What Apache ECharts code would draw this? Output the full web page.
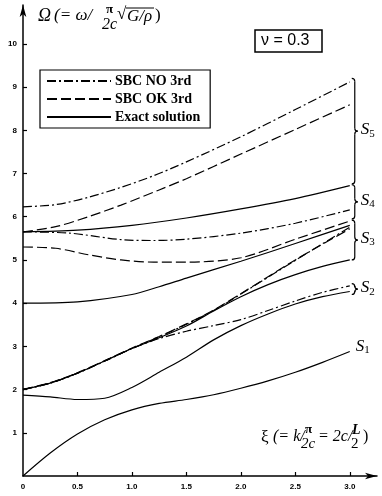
<!DOCTYPE html>
<html>
<head>
<meta charset="utf-8">
<script src="https://cdn.jsdelivr.net/npm/echarts@6/dist/echarts.min.js"></script>
<style>
html, body { margin: 0; padding: 0; background: #fff; }
#chart { width: 382px; height: 496px; }
</style>
</head>
<body>
<div id="chart"></div>
<script>
// 色散曲线 (v = 0.3)
var myChart = echarts.init(document.getElementById('chart'));

// 坐标轴刻度
var X_TICKS = [0, 0.5, 1.0, 1.5, 2.0, 2.5, 3.0];
var Y_TICKS = [1, 2, 3, 4, 5, 6, 7, 8, 9, 10];

// 精确解 Exact solution
var exactS1 = [[0, 0], [0.25, 0.53], [0.5, 0.97], [0.75, 1.3], [1.0, 1.53], [1.25, 1.68], [1.5, 1.77], [1.75, 1.88], [2.0, 2.03], [2.25, 2.2], [2.5, 2.4], [2.75, 2.63], [3.0, 2.88]];
var exactS2 = [[0, 1.87], [0.25, 1.83], [0.5, 1.77], [0.75, 1.8], [1.0, 2.05], [1.25, 2.4], [1.5, 2.75], [1.75, 3.15], [2.0, 3.48], [2.25, 3.75], [2.5, 3.98], [2.75, 4.15], [3.0, 4.27]];
var exactB2 = [[0, 2.0], [0.25, 2.15], [0.5, 2.38], [0.75, 2.66], [1.0, 2.95], [1.25, 3.2], [1.5, 3.47], [1.75, 3.82], [2.0, 4.15], [2.25, 4.43], [2.5, 4.66], [2.75, 4.85], [3.0, 5.0]];
var exactB4 = [[0, 4.0], [0.5, 4.03], [1.0, 4.2], [1.25, 4.38], [1.5, 4.58], [2.0, 4.97], [2.5, 5.38], [3.0, 5.8]];
var exactS4 = [[0, 5.65], [0.5, 5.69], [1.0, 5.8], [1.5, 5.97], [2.0, 6.18], [2.5, 6.42], [3.0, 6.72]];

// SBC NO 3rd
var noB2 = [[0, 2.0], [0.25, 2.15], [0.5, 2.38], [0.75, 2.66], [1.0, 2.95], [1.25, 3.22], [1.5, 3.51], [1.75, 3.83], [2.0, 4.21], [2.5, 4.99], [3.0, 5.76]];
var noS2 = [[0, 2.0], [0.25, 2.15], [0.5, 2.38], [0.75, 2.66], [1.0, 2.95], [1.25, 3.18], [1.5, 3.35], [1.75, 3.48], [2.0, 3.62], [2.25, 3.83], [2.5, 4.05], [2.75, 4.25], [3.0, 4.4]];
var noS4 = [[0, 5.65], [0.43, 5.62], [0.9, 5.47], [1.2, 5.45], [1.5, 5.48], [2.0, 5.62], [2.5, 5.85], [3.0, 6.16]];
var noS5 = [[0, 6.23], [0.3, 6.28], [0.6, 6.45], [0.9, 6.68], [1.2, 6.95], [1.5, 7.27], [2.0, 7.85], [2.5, 8.48], [3.0, 9.12]];

// SBC OK 3rd
var okB2 = [[0, 2.01], [0.25, 2.16], [0.5, 2.39], [0.75, 2.67], [1.0, 2.96], [1.25, 3.23], [1.5, 3.52], [1.75, 3.84], [2.0, 4.22], [2.5, 5.0], [3.0, 5.72]];
var okS3 = [[0, 5.3], [0.3, 5.27], [0.6, 5.12], [0.9, 5.0], [1.2, 4.95], [1.5, 4.95], [2.0, 5.05], [2.5, 5.48], [3.0, 5.9]];
var okS5 = [[0, 5.65], [0.3, 5.77], [0.6, 6.0], [0.9, 6.27], [1.25, 6.62], [1.5, 6.88], [2.0, 7.45], [2.5, 8.02], [3.0, 8.59]];

var NAME_NO = 'SBC NO 3rd';
var NAME_OK = 'SBC OK 3rd';
var NAME_EX = 'Exact solution';

var SERIF = 'Liberation Serif';
var SANS = 'Liberation Sans';
var DASH_NO = [9, 3, 2, 3];
var DASH_OK = [10, 4];

function makeLine(name, data, dash) {
    return {
        name: name,
        type: 'line',
        data: data,
        smooth: 0.3,
        symbol: 'none',
        silent: true,
        itemStyle: { color: '#000' },
        lineStyle: { color: '#000', width: 1.2, type: dash }
    };
}

var series = [
    makeLine(NAME_NO, noS5, DASH_NO),
    makeLine(NAME_NO, noS4, DASH_NO),
    makeLine(NAME_NO, noB2, DASH_NO),
    makeLine(NAME_NO, noS2, DASH_NO),
    makeLine(NAME_OK, okS5, DASH_OK),
    makeLine(NAME_OK, okS3, DASH_OK),
    makeLine(NAME_OK, okB2, DASH_OK),
    makeLine(NAME_EX, exactS1, 'solid'),
    makeLine(NAME_EX, exactS2, 'solid'),
    makeLine(NAME_EX, exactB2, 'solid'),
    makeLine(NAME_EX, exactB4, 'solid'),
    makeLine(NAME_EX, exactS4, 'solid')
];

var option = {
    animation: false,
    backgroundColor: '#fff',
    grid: { left: 23, right: 5, top: 5, bottom: 20 },
    xAxis: {
        type: 'value',
        min: 0,
        max: 3.25,
        axisLine: { lineStyle: { color: '#000', width: 1.5 }, symbol: ['none', 'arrow'], symbolSize: [5, 12] },
        axisTick: { inside: true, length: 4, customValues: X_TICKS.slice(1), lineStyle: { color: '#000', width: 1.2 } },
        axisLabel: {
            customValues: X_TICKS,
            margin: 7,
            color: '#000',
            fontFamily: SANS,
            fontWeight: 'bold',
            fontSize: 8,
            formatter: function (v) { return v === 0 ? '0' : v.toFixed(1); }
        },
        splitLine: { show: false }
    },
    yAxis: {
        type: 'value',
        min: 0,
        max: 10.9,
        axisLine: { lineStyle: { color: '#000', width: 1.5 }, symbol: ['none', 'arrow'], symbolSize: [5, 12] },
        axisTick: { inside: true, length: 4, customValues: Y_TICKS, lineStyle: { color: '#000', width: 1.2 } },
        axisLabel: {
            customValues: Y_TICKS,
            margin: 6,
            color: '#000',
            fontFamily: SANS,
            fontWeight: 'bold',
            fontSize: 8
        },
        splitLine: { show: false }
    },
    legend: {
        left: 40,
        top: 70,
        orient: 'vertical',
        data: [NAME_NO, NAME_OK, NAME_EX],
        itemWidth: 64,
        itemHeight: 12,
        itemGap: 4,
        padding: [4, 10, 4, 6],
        borderColor: '#000',
        borderWidth: 1.2,
        selectedMode: false,
        itemStyle: { opacity: 0 },
        textStyle: { fontFamily: SERIF, fontSize: 14, fontWeight: 'bold', color: '#000', padding: [0, 0, 0, -1] }
    },
    series: series
};

myChart.setOption(option);

// 标注：大括号和模态标签
function px(x, y) { return myChart.convertToPixel({ gridIndex: 0 }, [x, y]); }

function brace(x, y1, y2) {
    var m = (y1 + y2) / 2;
    var st = { fill: null, stroke: '#000', lineWidth: 1.2 };
    return [
        { type: 'bezierCurve', silent: true, style: st, shape: { x1: x, y1: y1, cpx1: x + 3, cpy1: y1, x2: x + 3, y2: y1 + 3 } },
        { type: 'line', silent: true, style: st, shape: { x1: x + 3, y1: y1 + 3, x2: x + 3, y2: m - 3 } },
        { type: 'bezierCurve', silent: true, style: st, shape: { x1: x + 3, y1: m - 3, cpx1: x + 3, cpy1: m, x2: x + 6, y2: m } },
        { type: 'bezierCurve', silent: true, style: st, shape: { x1: x + 6, y1: m, cpx1: x + 3, cpy1: m, x2: x + 3, y2: m + 3 } },
        { type: 'line', silent: true, style: st, shape: { x1: x + 3, y1: m + 3, x2: x + 3, y2: y2 - 3 } },
        { type: 'bezierCurve', silent: true, style: st, shape: { x1: x + 3, y1: y2 - 3, cpx1: x + 3, cpy1: y2, x2: x, y2: y2 } }
    ];
}

var BRACES = [
    { top: 9.2, bottom: 6.76, label: '5' },
    { top: 6.74, bottom: 5.95, label: '4' },
    { top: 5.92, bottom: 5.0, label: '3' },
    { top: 4.45, bottom: 4.2, label: '2' }
];

var LABEL_RICH = {
    s: { fontFamily: SERIF, fontStyle: 'italic', fontSize: 17, fill: '#000' },
    n: { fontFamily: SERIF, fontSize: 11, fill: '#000', verticalAlign: 'bottom', padding: [8, 0, 0, 0] }
};

var graphics = [];
var bx = px(3.0, 0)[0] + 2;
BRACES.forEach(function (b) {
    var y1 = px(0, b.top)[1];
    var y2 = px(0, b.bottom)[1];
    graphics = graphics.concat(brace(bx, y1, y2));
    graphics.push({
        type: 'text', left: bx + 9, top: (y1 + y2) / 2 - 10,
        style: { text: '{s|S}{n|' + b.label + '}', rich: LABEL_RICH }
    });
});
var s1pos = px(3.0, 2.88);
graphics.push({
    type: 'text', left: s1pos[0] + 6, top: s1pos[1] - 14,
    style: { text: '{s|S}{n|1}', rich: LABEL_RICH }
});

// 纵轴标题
graphics.push({ type: 'text', left: 38, top: 7, style: { text: 'Ω', font: 'italic 18px ' + SERIF, fill: '#000' } });
graphics.push({ type: 'text', left: 54, top: 7, style: { text: '(= ω/', font: 'italic 17px ' + SERIF, fill: '#000' } });
graphics.push({ type: 'text', left: 106, top: 3, style: { text: 'π', font: 'bold 13px ' + SERIF, fill: '#000' } });
graphics.push({ type: 'text', left: 102, top: 17, style: { text: '2c', font: 'italic 16px ' + SERIF, fill: '#000' } });
graphics.push({ type: 'text', left: 117, top: 6, style: { text: '√', font: '17px ' + SERIF, fill: '#000' } });
graphics.push({ type: 'line', shape: { x1: 126, y1: 8, x2: 154, y2: 8 }, style: { stroke: '#000', lineWidth: 1 } });
graphics.push({ type: 'text', left: 127, top: 8, style: { text: 'G/ρ', font: 'italic 17px ' + SERIF, fill: '#000' } });
graphics.push({ type: 'text', left: 155, top: 7, style: { text: ')', font: '17px ' + SERIF, fill: '#000' } });

// 横轴标题
graphics.push({ type: 'text', left: 261, top: 429, style: { text: 'ξ', font: '17px ' + SERIF, fill: '#000' } });
graphics.push({ type: 'text', left: 273, top: 429, style: { text: '(= k/', font: 'italic 16px ' + SERIF, fill: '#000' } });
graphics.push({ type: 'text', left: 305, top: 423, style: { text: 'π', font: 'bold 13px ' + SERIF, fill: '#000' } });
graphics.push({ type: 'text', left: 301, top: 437, style: { text: '2c', font: 'italic 15px ' + SERIF, fill: '#000' } });
graphics.push({ type: 'text', left: 318, top: 429, style: { text: '= 2c/', font: 'italic 16px ' + SERIF, fill: '#000' } });
graphics.push({ type: 'text', left: 352, top: 423, style: { text: 'L', font: 'italic bold 14px ' + SERIF, fill: '#000' } });
graphics.push({ type: 'text', left: 351, top: 437, style: { text: '2', font: '15px ' + SERIF, fill: '#000' } });
graphics.push({ type: 'text', left: 363, top: 429, style: { text: ')', font: '16px ' + SERIF, fill: '#000' } });

// 泊松比
graphics.push({ type: 'rect', shape: { x: 255, y: 30, width: 67, height: 22 }, style: { fill: '#fff', stroke: '#000', lineWidth: 1.5 } });
graphics.push({ type: 'text', left: 261, top: 33, style: { text: 'ν = 0.3', font: '16px ' + SANS, fill: '#000' } });

myChart.setOption({ graphic: graphics });

window.addEventListener('resize', function () { myChart.resize(); });
</script>
</body>
</html>
